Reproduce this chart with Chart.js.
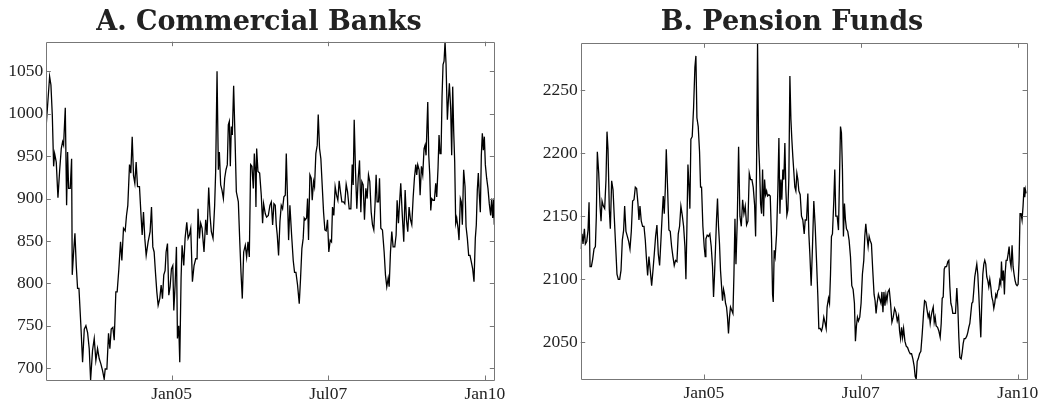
<!DOCTYPE html>
<html lang="en">
<head>
  <meta charset="UTF-8">
  <title>A. Commercial Banks / B. Pension Funds</title>
  <script src="https://cdn.jsdelivr.net/npm/chart.js"></script>
  <style>
    body { margin: 0; background: #fff; }
    canvas { position: absolute; top: 0; }
  </style>
</head>
<body>
  <canvas id="chartA" width="518" height="402" style="left:0px"></canvas>
  <canvas id="chartB" width="502" height="402" style="left:540px"></canvas>
  <script>
    // dates are decimal years
    const bankDates = [
      2003.000,2003.053,2003.074,2003.096,2003.117,2003.133,2003.159,2003.186,2003.212,2003.239,
      2003.260,2003.276,2003.303,2003.324,2003.340,2003.356,2003.382,2003.404,2003.414,2003.436,
      2003.457,2003.478,2003.499,2003.521,2003.552,2003.579,2003.606,2003.632,2003.659,2003.685,
      2003.707,2003.738,2003.765,2003.791,2003.818,2003.845,2003.871,2003.898,2003.924,2003.940,
      2003.967,2003.993,2004.015,2004.036,2004.062,2004.084,2004.110,2004.131,2004.158,2004.185,
      2004.206,2004.232,2004.259,2004.280,2004.301,2004.328,2004.349,2004.371,2004.392,2004.413,
      2004.434,2004.456,2004.487,2004.509,2004.530,2004.551,2004.572,2004.594,2004.625,2004.657,
      2004.679,2004.700,2004.721,2004.742,2004.764,2004.785,2004.811,2004.833,2004.854,2004.875,
      2004.896,2004.912,2004.934,2004.955,2004.976,2004.997,2005.019,2005.035,2005.056,2005.077,
      2005.093,2005.114,2005.130,2005.151,2005.167,2005.194,2005.215,2005.242,2005.263,2005.284,
      2005.305,2005.332,2005.358,2005.385,2005.406,2005.422,2005.444,
      2005.464,2005.486,2005.517,2005.544,2005.565,2005.592,2005.613,2005.634,2005.661,2005.687,
      2005.703,2005.725,2005.746,2005.762,2005.783,2005.804,2005.826,2005.847,2005.868,2005.889,
      2005.905,2005.921,2005.937,2005.953,2005.969,2005.990,2006.012,2006.033,2006.065,2006.086,
      2006.107,2006.128,2006.150,2006.176,2006.197,2006.219,2006.240,2006.261,2006.282,2006.304,
      2006.320,2006.336,2006.346,2006.357,2006.378,2006.405,2006.431,2006.452,2006.468,2006.495,
      2006.516,2006.543,2006.569,2006.591,2006.612,2006.633,2006.654,2006.670,2006.686,2006.707,
      2006.729,2006.750,2006.771,2006.792,2006.814,2006.830,2006.851,2006.867,2006.888,2006.915,
      2006.941,2006.962,2006.984,2007.010,2007.037,2007.058,2007.079,2007.100,2007.116,2007.132,
      2007.154,2007.170,2007.185,2007.207,2007.228,2007.244,2007.265,2007.281,2007.302,2007.324,
      2007.340,2007.361,2007.382,2007.403,2007.425,2007.446,2007.467,2007.488,2007.509,2007.531,
      2007.552,2007.568,2007.589,2007.610,2007.632,2007.653,2007.674,2007.695,2007.717,2007.743,
      2007.764,2007.786,
      2007.808,2007.834,2007.861,2007.882,2007.898,2007.914,2007.935,2007.956,2007.978,2007.999,
      2008.020,2008.036,2008.057,2008.078,2008.100,2008.121,2008.142,2008.163,2008.185,2008.206,
      2008.227,2008.248,2008.264,2008.280,2008.302,2008.318,2008.339,2008.365,2008.392,2008.413,
      2008.434,2008.456,2008.472,2008.493,2008.514,2008.535,2008.562,2008.583,2008.599,2008.620,
      2008.636,2008.657,2008.679,2008.705,2008.727,2008.748,2008.769,2008.790,2008.812,2008.833,
      2008.854,2008.875,2008.897,2008.912,2008.928,2008.950,2008.966,2008.987,2009.008,2009.029,
      2009.045,2009.061,2009.088,2009.104,2009.120,2009.136,2009.151,2009.173,2009.194,2009.215,
      2009.231,2009.252,2009.268,2009.284,2009.300,2009.316,2009.332,2009.348,2009.364,2009.380,
      2009.401,2009.417,2009.433,2009.454,2009.470,2009.486,2009.502,2009.518,2009.534,2009.550,
      2009.571,2009.587,2009.608,2009.624,2009.640,2009.661,2009.683,2009.699,2009.720,2009.741,
      2009.762,2009.784,2009.805,2009.826,2009.847,2009.863,2009.879,2009.895,2009.911,2009.927,
      2009.943,2009.959,2009.975,2009.991,2010.007,2010.028,2010.049,2010.070,2010.092,2010.108,
      2010.124,2010.140,2010.150
    ];
    const bankValues = [
      988,1044,1034,998,938,953,943,901,932,959,
      967,963,1007,892,955,912,912,947,810,837,
      859,821,794,794,750,707,746,750,742,723,
      686,721,735,709,723,711,705,697,687,699,
      699,741,723,746,748,733,790,790,817,849,
      827,865,862,880,892,940,930,973,927,918,
      943,914,914,884,857,884,853,833,849,861,
      890,843,837,813,790,774,782,798,782,810,
      815,837,847,786,796,817,821,768,798,843,
      735,750,707,806,845,821,853,872,853,857,
      865,802,821,829,829,888,853,
      871,865,837,875,857,913,880,861,853,892,
      932,1050,934,955,916,910,900,924,934,940,
      987,991,938,985,975,1033,971,908,896,853,
      813,782,837,845,831,849,831,940,938,912,
      953,932,890,959,932,930,904,871,894,882,
      878,880,892,896,869,894,892,869,857,833,
      873,892,888,902,904,953,896,851,892,857,
      827,813,813,798,776,806,841,853,877,875,
      877,900,851,928,924,898,920,914,953,963,
      999,959,947,916,884,863,862,875,837,851,
      849,890,880,914,904,898,921,908,896,896,
      894,917,
      908,888,888,940,916,993,932,888,924,945,
      884,920,916,875,912,900,928,920,884,869,
      863,896,928,896,896,924,865,863,837,810,
      796,806,796,837,861,843,843,857,898,871,
      892,918,884,849,910,875,861,890,875,869,
      900,924,940,928,940,934,904,938,928,959,
      963,951,1014,951,928,886,900,898,898,918,
      902,936,975,953,953,1020,1058,1062,1085,1058,
      993,1016,1036,1006,951,1032,979,943,871,877,
      865,851,900,896,869,934,914,867,853,833,
      833,825,817,802,853,869,910,930,904,884,
      951,977,957,973,940,924,912,894,880,900,
      877,900,869
    ];

    const pensionDates = [
      2003.038,2003.059,2003.075,2003.097,2003.112,2003.134,2003.155,2003.171,2003.187,2003.208,
      2003.229,2003.250,2003.272,2003.287,2003.303,2003.325,2003.346,2003.362,2003.378,2003.399,
      2003.420,2003.441,2003.457,2003.473,2003.494,2003.510,2003.531,2003.553,2003.574,2003.595,
      2003.616,2003.637,2003.659,2003.680,2003.701,2003.722,2003.738,2003.759,2003.781,2003.802,
      2003.823,2003.844,2003.865,2003.887,2003.908,2003.929,2003.950,2003.966,2003.982,2004.003,
      2004.024,2004.046,2004.067,2004.083,2004.104,2004.125,2004.146,2004.168,2004.189,2004.210,
      2004.231,2004.252,2004.274,2004.295,2004.316,2004.337,2004.353,2004.369,2004.385,2004.401,
      2004.422,2004.443,2004.464,2004.486,2004.507,2004.528,2004.549,2004.571,2004.592,2004.613,
      2004.634,2004.655,2004.677,2004.698,2004.714,2004.730,2004.746,2004.761,2004.777,2004.793,
      2004.814,2004.836,2004.857,2004.873,2004.889,2004.910,2004.931,2004.947,2004.963,2004.984,
      2005.005,2005.021,2005.032,2005.053,2005.074,2005.095,2005.117,2005.138,2005.154,2005.170,
      2005.186,2005.201,2005.217,2005.233,2005.249,2005.265,2005.281,2005.297,2005.313,2005.329,
      2005.345,2005.361,2005.376,2005.392,2005.408,2005.424,
      2005.463,2005.479,2005.495,2005.511,2005.532,2005.553,2005.574,2005.596,2005.617,2005.638,
      2005.659,2005.680,2005.702,2005.723,2005.744,2005.765,2005.786,2005.808,2005.824,2005.839,
      2005.855,2005.871,2005.887,2005.903,2005.919,2005.935,2005.951,2005.967,2005.983,2005.999,
      2006.014,2006.036,2006.057,2006.078,2006.094,2006.105,2006.120,2006.136,2006.158,2006.179,
      2006.195,2006.211,2006.227,2006.242,2006.258,2006.274,2006.290,2006.306,2006.322,2006.338,
      2006.354,2006.370,2006.386,2006.401,2006.417,2006.433,2006.449,2006.465,2006.481,2006.497,
      2006.513,2006.534,2006.555,2006.576,2006.598,2006.614,2006.635,2006.656,2006.672,2006.688,
      2006.709,2006.730,2006.751,2006.773,2006.794,2006.815,2006.831,2006.852,2006.873,2006.889,
      2006.910,2006.932,2006.948,2006.963,2006.985,2007.001,2007.017,2007.032,2007.048,2007.070,
      2007.085,2007.101,2007.123,2007.144,2007.160,2007.176,2007.191,2007.207,2007.223,2007.239,
      2007.255,2007.271,2007.292,2007.313,2007.335,2007.356,2007.377,2007.398,2007.414,2007.430,
      2007.446,2007.462,2007.483,2007.504,2007.525,2007.547,2007.563,2007.579,2007.594,2007.616,
      2007.632,2007.647,2007.669,2007.690,2007.711,2007.727,2007.743,2007.759,2007.780,
      2007.820,2007.836,2007.852,2007.868,2007.884,2007.900,2007.916,2007.932,2007.953,2007.974,
      2007.995,2008.016,2008.038,2008.059,2008.080,2008.101,2008.117,2008.133,2008.149,2008.165,
      2008.181,2008.202,2008.223,2008.244,2008.266,2008.287,2008.308,2008.329,2008.350,2008.366,
      2008.382,2008.398,2008.414,2008.435,2008.456,2008.478,2008.499,2008.515,2008.536,2008.557,
      2008.573,2008.589,2008.605,2008.621,2008.637,2008.653,2008.669,2008.684,2008.700,2008.722,
      2008.743,2008.764,2008.780,2008.796,2008.812,2008.828,2008.844,2008.865,2008.886,2008.902,
      2008.918,2008.934,2008.950,2008.965,2008.987,2009.008,2009.029,2009.045,2009.061,2009.077,
      2009.098,2009.114,2009.130,2009.146,2009.167,2009.188,2009.204,2009.220,2009.236,2009.252,
      2009.268,2009.284,2009.299,2009.315,2009.331,2009.347,2009.363,2009.379,2009.395,2009.411,
      2009.427,2009.443,2009.459,2009.474,2009.490,2009.506,2009.522,2009.538,2009.554,2009.570,
      2009.586,2009.602,2009.618,2009.633,2009.649,2009.665,2009.681,2009.697,2009.713,2009.729,
      2009.740,2009.755,2009.771,2009.787,2009.798,2009.814,2009.830,2009.846,2009.862,2009.877,
      2009.893,2009.909,2009.925,2009.941,2009.957,2009.973,2009.989,2010.005,2010.021,2010.036,
      2010.052,2010.068,2010.084,2010.100,2010.111,2010.121,2010.132
    ];
    const pensionValues = [
      2124,2136,2128,2140,2128,2130,2139,2161,2110,2110,
      2116,2124,2126,2150,2201,2184,2158,2146,2162,2158,
      2156,2179,2217,2203,2155,2140,2178,2171,2148,2126,
      2104,2100,2100,2107,2131,2139,2158,2138,2134,2130,
      2124,2138,2162,2163,2173,2172,2160,2147,2158,2146,
      2142,2142,2131,2118,2103,2118,2107,2095,2107,2120,
      2134,2143,2120,2111,2131,2152,2166,2152,2171,2203,
      2172,2139,2138,2126,2118,2111,2115,2114,2136,2142,
      2158,2151,2142,2126,2100,2142,2191,2176,2156,2211,
      2213,2236,2268,2277,2228,2221,2201,2173,2173,2142,
      2126,2118,2132,2135,2134,2136,2126,2110,2086,2104,
      2126,2147,2164,2142,2128,2107,2095,2083,2092,2088,
      2081,2078,2070,2057,2070,2078,
      2073,2104,2148,2112,2147,2205,2150,2142,2163,2152,
      2158,2143,2146,2184,2179,2179,2173,2159,2134,2189,
      2287,2208,2189,2160,2152,2187,2150,2179,2167,2170,
      2166,2167,2166,2131,2088,2082,2123,2118,2136,2172,
      2212,2152,2179,2163,2187,2179,2208,2171,2151,2155,
      2181,2261,2227,2211,2197,2185,2173,2170,2184,2179,
      2170,2167,2150,2147,2136,2147,2147,2168,2136,2120,
      2095,2126,2162,2142,2115,2087,2061,2061,2059,2062,
      2070,2065,2061,2078,2085,2081,2104,2134,2136,2163,
      2187,2150,2150,2139,2179,2221,2216,2187,2134,2160,
      2147,2140,2138,2131,2118,2095,2092,2081,2051,2063,
      2070,2067,2070,2081,2104,2115,2134,2144,2136,2126,
      2134,2131,2128,2107,2088,2083,2073,2081,2088,
      2081,2090,2074,2090,2079,2088,2083,2090,2092,2081,
      2066,2070,2077,2074,2067,2071,2059,2053,2062,2054,
      2061,2051,2047,2046,2043,2041,2041,2037,2031,2023,
      2021,2035,2037,2041,2043,2057,2073,2083,2082,2075,
      2070,2073,2065,2071,2075,2078,2066,2070,2063,2062,
      2059,2054,2065,2085,2086,2108,2110,2110,2114,2115,
      2094,2081,2078,2073,2073,2073,2093,2078,2054,2038,
      2037,2042,2049,2053,2053,2055,2058,2062,2065,2073,
      2081,2082,2091,2102,2107,2112,2104,2088,2070,2054,
      2083,2104,2112,2115,2112,2102,2099,2094,2100,2094,
      2086,2083,2077,2081,2088,2086,2091,2092,2099,2096,
      2114,2099,2107,2088,2104,2115,2115,2120,2126,2115,
      2110,2127,2110,2104,2099,2096,2095,2096,2115,2152,
      2152,2147,2158,2173,2165,2171,2168
    ];

    const xTickValues = [2005, 2007.5, 2010];
    const xTickLabels = ['Jan05', 'Jul07', 'Jan10'];
    const bankYTicks = [700, 750, 800, 850, 900, 950, 1000, 1050];
    const pensionYTicks = [2050, 2100, 2150, 2200, 2250];

    // matlab style box with inward ticks on all four sides
    const boxTicks = {
      id: 'boxTicks',
      afterDraw(chart) {
        const { ctx, chartArea: a, scales } = chart;
        const len = 4.5;
        ctx.save();
        ctx.strokeStyle = '#777';
        ctx.lineWidth = 1;
        ctx.beginPath();
        ctx.rect(Math.round(a.left) + 0.5, Math.round(a.top) + 0.5,
                 Math.round(a.right) - Math.round(a.left), Math.round(a.bottom) - Math.round(a.top));
        scales.x.ticks.forEach(t => {
          const px = Math.round(scales.x.getPixelForValue(t.value)) + 0.5;
          ctx.moveTo(px, a.bottom); ctx.lineTo(px, a.bottom - len);
          ctx.moveTo(px, a.top); ctx.lineTo(px, a.top + len);
        });
        scales.y.ticks.forEach(t => {
          const py = Math.round(scales.y.getPixelForValue(t.value)) + 0.5;
          ctx.moveTo(a.left, py); ctx.lineTo(a.left + len, py);
          ctx.moveTo(a.right, py); ctx.lineTo(a.right - len, py);
        });
        ctx.stroke();
        ctx.restore();
      }
    };

    // panel title, centred where the original sits
    const panelTitle = {
      id: 'panelTitle',
      afterDraw(chart, args, opts) {
        const ctx = chart.ctx;
        ctx.save();
        ctx.fillStyle = '#222';
        ctx.font = 'bold 27px "DejaVu Serif"';
        ctx.textAlign = 'center';
        ctx.textBaseline = 'alphabetic';
        ctx.fillText(opts.text, opts.x, opts.y);
        ctx.restore();
      }
    };

    const tickFont = { family: 'Liberation Serif', size: 17.5 };

    function makePanel(id, title, dates, values, yTicks, lim, box) {
      const points = dates.map((d, i) => ({ x: d, y: values[i] }));
      return new Chart(document.getElementById(id), {
        type: 'line',
        data: {
          datasets: [{
            data: points,
            borderColor: '#000',
            borderWidth: 1.3,
            pointRadius: 0,
            fill: false,
            tension: 0
          }]
        },
        options: {
          responsive: false,
          animation: false,
          devicePixelRatio: 1,
          layout: { padding: { left: 0, right: box.padRight, top: box.padTop, bottom: 0 } },
          plugins: {
            legend: { display: false },
            tooltip: { enabled: false },
            title: { display: false },
            panelTitle: { text: title, x: box.titleX, y: 29.5 }
          },
          scales: {
            x: {
              type: 'linear',
              min: lim.xMin,
              max: lim.xMax,
              grid: { display: false, drawTicks: false },
              border: { display: false },
              afterBuildTicks: s => { s.ticks = xTickValues.map(v => ({ value: v })); },
              afterFit: s => { s.height = box.xHeight; },
              ticks: {
                autoSkip: false,
                maxRotation: 0,
                padding: 3.5,
                color: '#222',
                font: tickFont,
                callback: v => xTickLabels[xTickValues.indexOf(v)]
              }
            },
            y: {
              min: lim.yMin,
              max: lim.yMax,
              grid: { display: false, drawTicks: false },
              border: { display: false },
              afterBuildTicks: s => { s.ticks = yTicks.map(v => ({ value: v })); },
              afterFit: s => { s.width = box.yWidth; },
              ticks: { padding: 3, color: '#222', font: tickFont, callback: v => String(v) }
            }
          }
        },
        plugins: [boxTicks, panelTitle]
      });
    }

    makePanel('chartA', 'A. Commercial Banks', bankDates, bankValues, bankYTicks,
      { xMin: 2003.0, xMax: 2010.15, yMin: 686, yMax: 1085 },
      { padRight: 23.7, padTop: 41.7, xHeight: 22, yWidth: 46.3, titleX: 259 });

    makePanel('chartB', 'B. Pension Funds', pensionDates, pensionValues, pensionYTicks,
      { xMin: 2003.038, xMax: 2010.148, yMin: 2021, yMax: 2287 },
      { padRight: 14.3, padTop: 43.3, xHeight: 23, yWidth: 40.7, titleX: 252 });
  </script>
</body>
</html>
